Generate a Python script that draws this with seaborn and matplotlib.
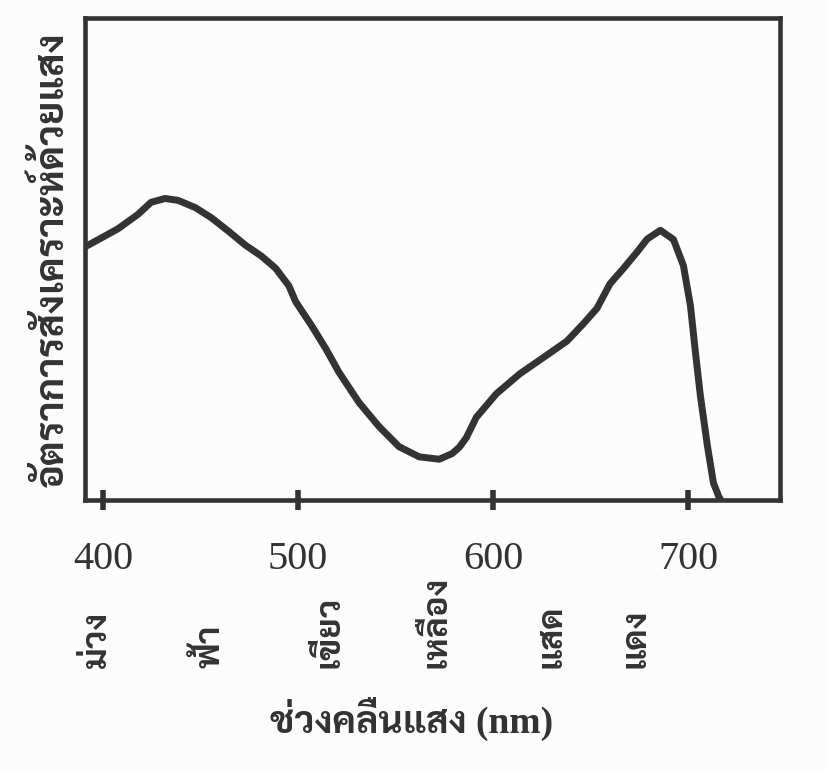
import matplotlib
matplotlib.use("Agg")
import matplotlib.pyplot as plt
import matplotlib.transforms as mtransforms
from matplotlib import font_manager as fm
import seaborn as sns
import pandas as pd

# ---------------- data ----------------
wavelength = [391.0, 397.4, 407.7, 418.0, 424.7, 431.9, 438.6, 447.4, 455.6,
              464.4, 473.1, 481.4, 488.6, 495.3, 498.8, 507.0, 514.3, 520.9,
              531.2, 541.5, 551.8, 562.1, 572.4, 579.1, 582.7, 586.3, 591.4,
              601.7, 613.6, 625.4, 637.8, 646.0, 653.2, 659.9, 666.6, 673.8,
              679.0, 685.7, 692.4, 697.5, 701.1, 703.7, 706.2, 709.8, 712.9,
              715.5, 716.5]
rate = [52.5, 53.9, 56.2, 59.2, 61.7, 62.5, 62.1, 60.6, 58.5,
        55.7, 52.8, 50.5, 48.0, 44.4, 41.1, 36.1, 31.3, 26.5,
        20.2, 15.2, 11.0, 8.9, 8.4, 9.6, 10.9, 12.9, 17.1,
        22.0, 26.1, 29.4, 32.9, 36.4, 39.7, 44.8, 47.9, 51.4,
        54.1, 55.9, 54.0, 48.6, 40.3, 30.5, 21.6, 11.2, 3.5,
        0.8, 0.0]
tick_values = [400, 500, 600, 700]
tick_labels = ["400", "500", "600", "700"]
color_names = ["ม่วง", "ฟ้า", "เขียว", "เหลือง", "แสด", "แดง"]
color_positions = [397, 455, 516, 571, 630, 673]
x_title = "ช่วงคลื่นแสง (nm)"
y_title = "อัตราการสังเคราะห์ด้วยแสง"

# ---------------- fonts ----------------
installed = {f.name for f in fm.fontManager.ttflist}
thai_pref = ["Sarabun", "IBM Plex Sans Thai Looped", "Noto Sans Thai Looped",
             "Taviraj", "Noto Serif Thai", "Noto Sans Thai"]
thai_family = [f for f in thai_pref if f in installed][:1] + ["DejaVu Sans"]
serif_thai = ["Liberation Serif"] + thai_family

sns.set_theme(style="white")
plt.rcParams["font.family"] = thai_family

ink = "#333333"
df = pd.DataFrame({"wavelength": wavelength, "rate": rate})

fig = plt.figure(figsize=(8.28, 7.70), dpi=100, facecolor="#fcfcfc")
ax = fig.add_axes([0.103, 0.351, 0.839, 0.626])
ax.set_facecolor("#fcfcfc")

sns.lineplot(data=df, x="wavelength", y="rate", ax=ax, color=ink,
             linewidth=5.0, sort=False, estimator=None)
for ln in ax.get_lines():
    ln.set_solid_joinstyle("round")
    ln.set_solid_capstyle("round")

ax.set_xlim(391, 747)
ax.set_ylim(0, 100)
for s in ax.spines.values():
    s.set_linewidth(3.3)
    s.set_color(ink)
    s.set_visible(True)

ax.set_xticks(tick_values)
ax.set_xticklabels(tick_labels, fontfamily="Liberation Serif", fontsize=29, color=ink)
ax.set_yticks([])
ax.tick_params(axis="x", direction="inout", length=15, width=4, color=ink, pad=22,
               bottom=True)
ax.set_xlabel("")
ax.set_ylabel(y_title, fontsize=28.5, fontweight="bold", color=ink, labelpad=10,
              family=thai_family)

trans = mtransforms.blended_transform_factory(ax.transData, ax.transAxes)
for name, pos in zip(color_names, color_positions):
    ax.text(pos, -0.35, name, transform=trans, rotation=90, ha="center", va="bottom",
            fontsize=25, fontweight="bold", color=ink, family=thai_family)

fig.text(0.497, 0.066, x_title, ha="center", va="center", fontsize=27,
         fontweight="bold", color=ink, family=serif_thai)

fig.savefig("out.png", dpi=100, facecolor=fig.get_facecolor())
